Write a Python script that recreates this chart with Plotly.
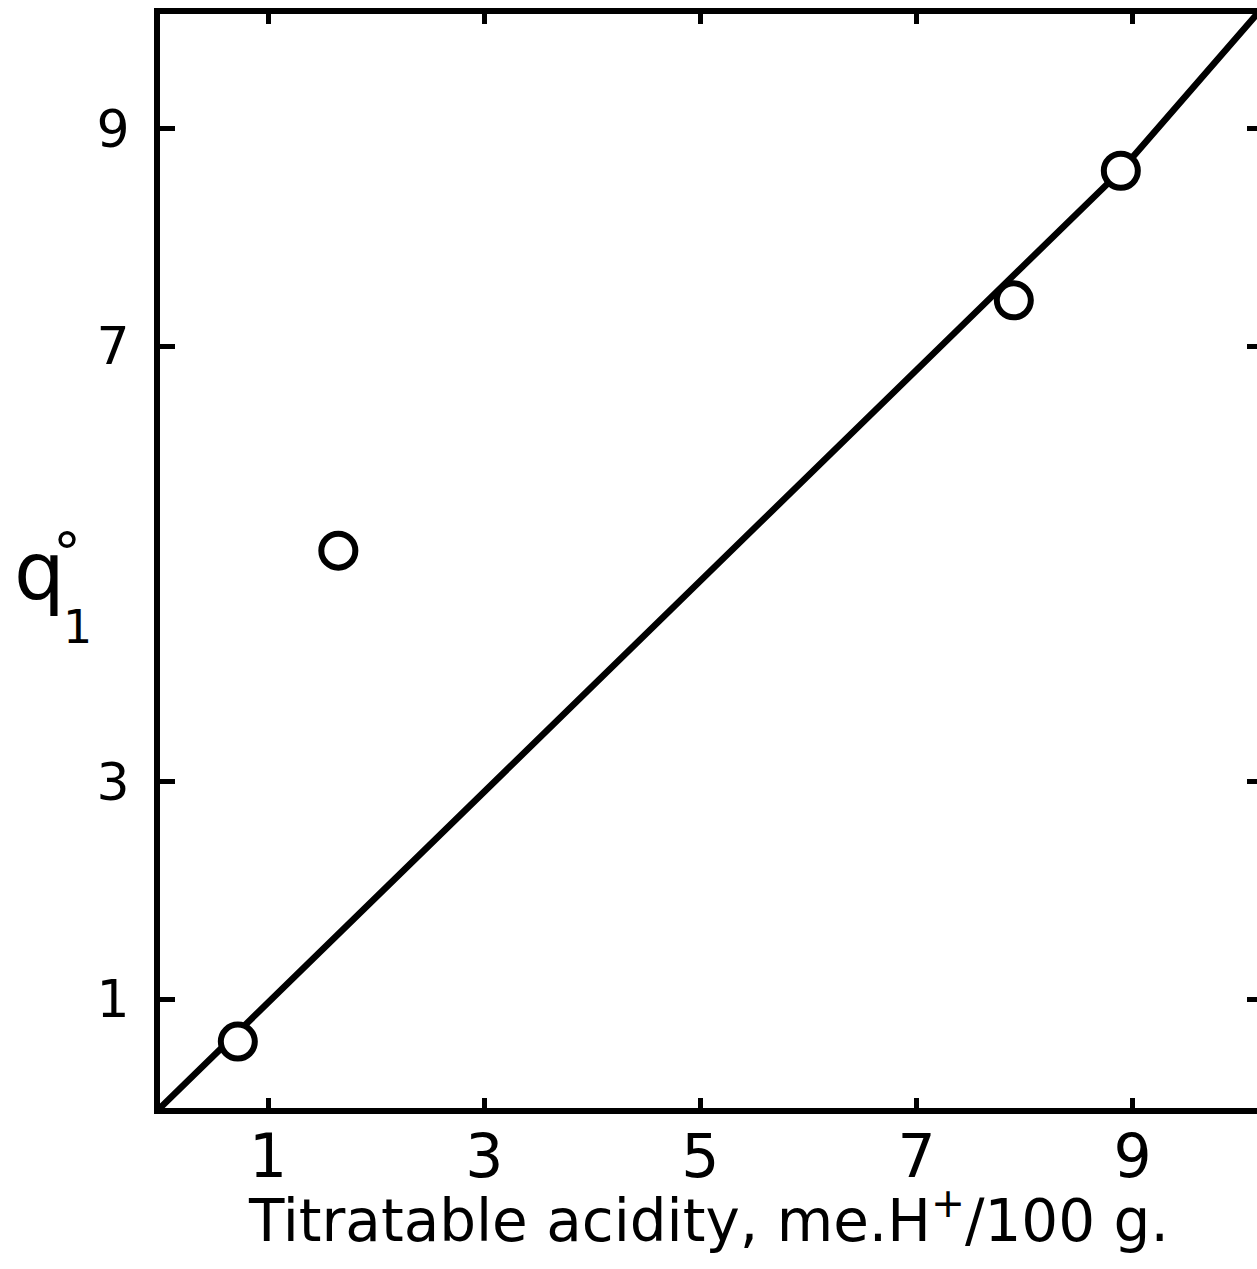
import plotly.graph_objects as go

# Measured points: titratable acidity (me. H+/100 g) vs q°1
acidity = [0.72, 1.65, 7.9, 8.89]
q1 = [0.61, 5.12, 7.42, 8.61]

# Fitted relation drawn through the data
fit_acidity = [0.0, 8.89, 10.15]
fit_q1 = [0.0, 8.61, 10.05]

x_ticks = [1, 3, 5, 7, 9]
y_ticks = [1, 3, 7, 9]

FONT = "DejaVu Sans"
INK = "black"

fig = go.Figure()

fig.add_trace(go.Scatter(
    x=fit_acidity, y=fit_q1, mode="lines",
    line=dict(color=INK, width=6.5),
    hoverinfo="skip", showlegend=False,
))
fig.add_trace(go.Scatter(
    x=acidity, y=q1, mode="markers",
    marker=dict(symbol="circle", size=34, color="white",
                line=dict(color=INK, width=6)),
    showlegend=False,
))
# carrier trace so the right-hand tick axis is drawn
fig.add_trace(go.Scatter(x=[None], y=[None], yaxis="y2",
                         showlegend=False, hoverinfo="skip"))

fig.update_layout(
    width=1257, height=1269,
    margin=dict(l=160, r=0, t=14, b=161),
    paper_bgcolor="white", plot_bgcolor="white",
    font=dict(family=FONT, color=INK),
    xaxis=dict(
        range=[0, 10.15], tickvals=x_ticks, ticktext=[str(v) for v in x_ticks],
        showgrid=False, zeroline=False,
        showline=True, linecolor=INK, linewidth=6, mirror="ticks",
        ticks="inside", ticklen=10, tickwidth=5, tickcolor=INK,
        tickfont=dict(family=FONT, size=60, color=INK),
        ticklabelstandoff=-9,
    ),
    yaxis=dict(
        range=[0, 10.05], tickvals=y_ticks, ticktext=[str(v) for v in y_ticks],
        showgrid=False, zeroline=False,
        showline=True, linecolor=INK, linewidth=6,
        ticks="inside", ticklen=15, tickwidth=5, tickcolor=INK,
        tickfont=dict(family=FONT, size=52, color=INK),
        ticklabelstandoff=14,
    ),
    yaxis2=dict(
        overlaying="y", side="right", matches="y", range=[0, 10.05],
        tickvals=y_ticks, showticklabels=False, showgrid=False, zeroline=False,
        showline=False, ticks="inside", ticklen=10, tickwidth=5, tickcolor=INK,
    ),
)

# x-axis title
fig.add_annotation(text="Titratable acidity, me.H<sup>+</sup>/100 g.",
                   xref="paper", yref="paper", x=0.5, y=-0.1,
                   xanchor="center", yanchor="middle", showarrow=False,
                   font=dict(family=FONT, size=58, color=INK))

# y-axis label q°1 built from three pieces of text
fig.add_annotation(text="q", xref="paper", yref="paper", x=-0.135, y=0.49,
                   showarrow=False, font=dict(family=FONT, size=80, color=INK))
fig.add_annotation(text="°", xref="paper", yref="paper", x=-0.099, y=0.508,
                   showarrow=False, font=dict(family=FONT, size=56, color=INK))
fig.add_annotation(text="1", xref="paper", yref="paper", x=-0.090, y=0.44,
                   showarrow=False, font=dict(family=FONT, size=46, color=INK))

fig.write_html("out.html")
